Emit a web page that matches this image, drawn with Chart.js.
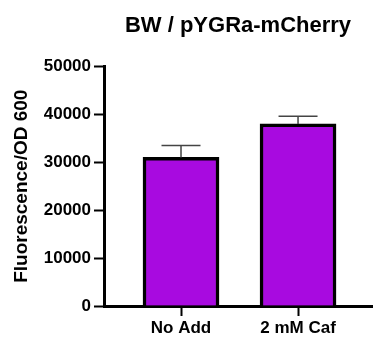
<!DOCTYPE html>
<html>
<head>
<meta charset="utf-8">
<script src="https://cdn.jsdelivr.net/npm/chart.js@4.4.1/dist/chart.umd.min.js"></script>
<style>
  html, body { margin: 0; padding: 0; background: #fff; }
  #wrap { width: 373px; height: 338px; }
</style>
</head>
<body>
<div id="wrap"><canvas id="myBarChart" width="373" height="338"></canvas></div>
<script>
const categories = ['No Add', '2 mM Caf'];
const meanValues = [31000, 38000];
const errorTops = [33500, 39600];
const yTicks = [0, 10000, 20000, 30000, 40000, 50000];

const font = 'Liberation Sans, Arial, sans-serif';

// draws the upper error bars (line + cap) from the bar top
const errorBarPlugin = {
  id: 'errorBars',
  afterDatasetsDraw(chart) {
    const { ctx, scales } = chart;
    ctx.save();
    ctx.strokeStyle = '#444';
    ctx.lineWidth = 1.5;
    categories.forEach((c, i) => {
      const x = scales.x.getPixelForValue(i);
      const yTop = scales.y.getPixelForValue(errorTops[i]);
      const yBar = scales.y.getPixelForValue(meanValues[i]);
      ctx.beginPath();
      ctx.moveTo(x, yBar);
      ctx.lineTo(x, yTop);
      ctx.moveTo(x - 19.5, yTop);
      ctx.lineTo(x + 19.5, yTop);
      ctx.stroke();
    });
    ctx.restore();
  }
};

const ctx = document.getElementById('myBarChart').getContext('2d');
const chart = new Chart(ctx, {
  type: 'bar',
  data: {
    datasets: [{
      label: 'Fluorescence/OD 600',
      data: categories.map((c, i) => ({ x: i, y: meanValues[i] })),
      backgroundColor: 'rgb(168, 10, 224)',
      borderColor: '#000',
      borderWidth: 3.5,
      barThickness: 76
    }]
  },
  options: {
    responsive: false,
    animation: false,
    layout: { padding: { right: 1 } },
    plugins: {
      legend: { display: false },
      tooltip: { enabled: false },
      title: {
        display: true,
        text: 'BW / pYGRa-mCherry',
        fullSize: false,
        color: '#000',
        font: { family: font, size: 22, weight: 'bold' },
        padding: { top: 13, bottom: 27 }
      }
    },
    scales: {
      x: {
        type: 'linear',
        offset: false,
        min: -0.658,
        max: 1.632,
        afterBuildTicks: (axis) => {
          axis.ticks = categories.map((c, i) => ({ value: i }));
        },
        afterFit: (axis) => { axis.height = 32; },
        ticks: {
          color: '#000',
          padding: 2,
          font: { family: font, size: 17, weight: 'bold' },
          callback: (v) => categories[v]
        },
        grid: {
          offset: false,
          drawOnChartArea: false,
          tickLength: 10,
          tickWidth: 2,
          tickColor: '#000'
        },
        border: { color: '#000', width: 3 }
      },
      y: {
        min: 0,
        max: 50000,
        afterBuildTicks: (axis) => {
          axis.ticks = yTicks.map(v => ({ value: v }));
        },
        afterFit: (axis) => { axis.width = 104; },
        ticks: {
          color: '#000',
          padding: 3,
          font: { family: font, size: 17, weight: 'bold' },
          callback: (v) => String(v)
        },
        grid: {
          drawOnChartArea: false,
          tickLength: 10,
          tickWidth: 2,
          tickColor: '#000'
        },
        border: { color: '#000', width: 3 },
        title: {
          display: true,
          text: 'Fluorescence/OD 600',
          color: '#000',
          font: { family: font, size: 19, weight: 'bold' },
          padding: { top: 10, bottom: 0 }
        }
      }
    }
  },
  plugins: [errorBarPlugin]
});
</script>
</body>
</html>
